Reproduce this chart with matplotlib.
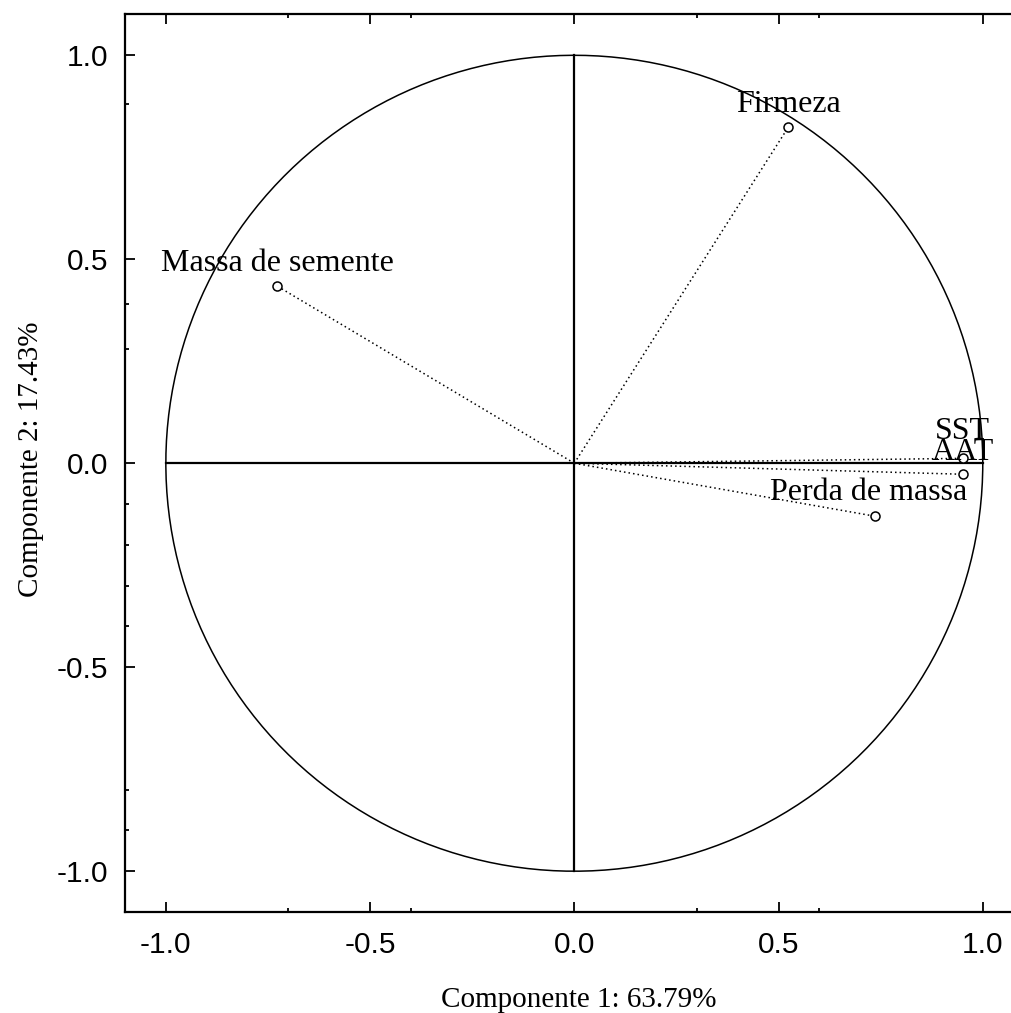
import numpy as np
import matplotlib
matplotlib.use("Agg")
import matplotlib.pyplot as plt

# Loadings of each variable on the first two principal components
variables = ["Firmeza", "Massa de semente", "SST", "AAT", "Perda de massa"]
pc1 = [0.524, -0.727, 0.951, 0.951, 0.737]
pc2 = [0.824, 0.434, 0.012, -0.027, -0.130]

xlabel = "Componente 1: 63.79%"
ylabel = "Componente 2: 17.43%"
major_ticks = [-1.0, -0.5, 0.0, 0.5, 1.0]
tick_labels = ["-1.0", "-0.5", "0.0", "0.5", "1.0"]
x_minor = [-0.7, -0.4, 0.3, 0.6]
y_minor = [0.88, 0.39, 0.28, -0.1, -0.2, -0.3, -0.4, -0.8, -0.9]

# label placement (offset in points from each marker)
label_offsets = {
    "Firmeza": (0, 16),
    "Massa de semente": (0, 16),
    "SST": (0, 19),
    "AAT": (0, 16),
    "Perda de massa": (-5, 17),
}

serif = ["Liberation Serif", "DejaVu Serif"]
sans = ["Liberation Sans", "DejaVu Sans"]

fig = plt.figure(figsize=(10.12, 10.13), dpi=100)
ax = fig.add_axes([0.1235, 0.0997, 0.888, 0.886])

# unit circle and reference axes
theta = np.linspace(0, 2 * np.pi, 400)
ax.plot(np.cos(theta), np.sin(theta), color="black", lw=1.1)
ax.plot([-1, 1], [0, 0], color="black", lw=1.6)
ax.plot([0, 0], [-1, 1], color="black", lw=1.6)

for name, x, y in zip(variables, pc1, pc2):
    ax.plot([0, x], [0, y], color="black", lw=1.1, ls=(0, (1, 2)))
    ax.plot([x], [y], marker="o", ms=6.5, mfc="white", mec="black", mew=1.1)
    ax.annotate(name, (x, y), xytext=label_offsets[name], textcoords="offset points",
                ha="center", va="center", fontsize=23, family=serif, color="black")

ax.set_xlim(-1.1, 1.1)
ax.set_ylim(-1.1, 1.1)
ax.set_xticks(major_ticks)
ax.set_xticklabels(tick_labels, family=sans, fontsize=21.5)
ax.set_yticks(major_ticks)
ax.set_yticklabels(tick_labels, family=sans, fontsize=21.5)
ax.set_xticks(x_minor, minor=True)
ax.set_yticks(y_minor, minor=True)
ax.tick_params(which="both", direction="in", top=True, right=True, width=1.3)
ax.tick_params(which="major", length=7)
ax.tick_params(axis="x", which="major", pad=14)
ax.tick_params(axis="y", which="major", pad=12)
ax.tick_params(which="minor", length=3)
for s in ax.spines.values():
    s.set_linewidth(1.6)

ax.set_xlabel(xlabel, family=serif, fontsize=21)
ax.set_ylabel(ylabel, family=serif, fontsize=21)
ax.xaxis.set_label_coords(0.505, -0.0835)
ax.yaxis.set_label_coords(-0.0905, 0.505)

fig.savefig("out.png", dpi=100)
